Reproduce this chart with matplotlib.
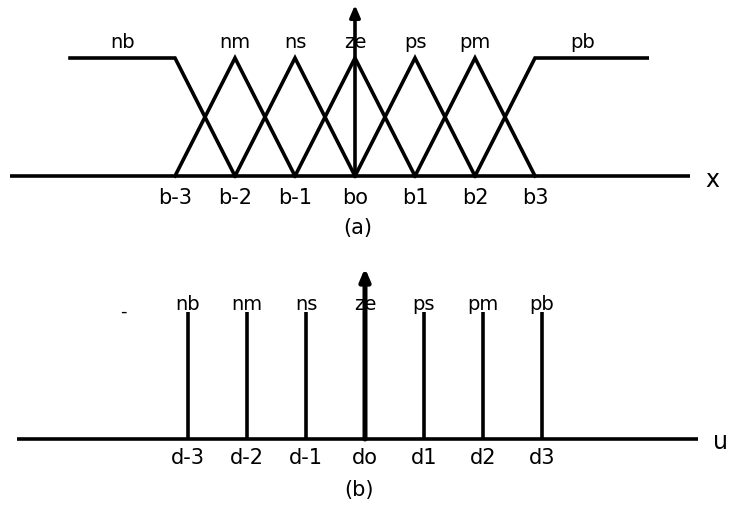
import matplotlib
matplotlib.use('Agg')
import matplotlib.pyplot as plt

# fuzzy partition of the input x (a) and singleton outputs for u (b)
set_names = ['nb', 'nm', 'ns', 'ze', 'ps', 'pm', 'pb']
b_centers = [-3, -2, -1, 0, 1, 2, 3]
b_labels = ['b-3', 'b-2', 'b-1', 'bo', 'b1', 'b2', 'b3']
d_centers = [-3, -2, -1, 0, 1, 2, 3]
d_labels = ['d-3', 'd-2', 'd-1', 'do', 'd1', 'd2', 'd3']
singleton_height = [1, 1, 1, 1, 1, 1, 1]

x_min, x_max = -5.75, 5.58      # universe drawn for x
shoulder_left, shoulder_right = -4.75, 4.87
u_min, u_max = -5.9, 5.65

lw = 2.6
fs = 15
plt.rcParams['font.family'] = ['DejaVu Sans']

fig = plt.figure(figsize=(7.34, 5.07), dpi=100)

# ---- (a) membership functions ----
ax1 = fig.add_axes([0, 0.5266, 1, 0.4734])
ax1.set_xlim(-355 / 60, (734 - 355) / 60)
ax1.set_ylim(-64 / 118, 176 / 118)
ax1.axis('off')

ax1.plot([x_min, x_max], [0, 0], color='black', lw=lw, solid_capstyle='butt')
for i, c in enumerate(b_centers):
    if i == 0:
        xs = [shoulder_left, c, b_centers[1]]
        ys = [1, 1, 0]
    elif i == len(b_centers) - 1:
        xs = [b_centers[-2], c, shoulder_right]
        ys = [0, 1, 1]
    else:
        xs = [b_centers[i - 1], c, b_centers[i + 1]]
        ys = [0, 1, 0]
    ax1.plot(xs, ys, color='black', lw=lw, solid_joinstyle='miter')

ax1.annotate('', xy=(0, 1.45), xytext=(0, 0),
             arrowprops=dict(arrowstyle='-|>,head_length=0.7,head_width=0.3',
                             color='black', lw=lw, shrinkA=0, shrinkB=0))

name_x = [-3.88] + b_centers[1:-1] + [3.8]
for nx, name in zip(name_x, set_names):
    ax1.text(nx, 1.13, name, ha='center', va='center', fontsize=fs - 1)
for c, lab in zip(b_centers, b_labels):
    ax1.text(c, -0.19, lab, ha='center', va='center', fontsize=fs)
ax1.text(5.95, -0.03, 'x', ha='center', va='center', fontsize=fs + 2)
ax1.text(0.05, -0.44, '(a)', ha='center', va='center', fontsize=fs)

# ---- (b) output singletons ----
ax2 = fig.add_axes([0, 0, 1, 0.5266])
ax2.set_xlim(-365 / 59, (734 - 365) / 59)
ax2.set_ylim(-68 / 127, 199 / 127)
ax2.axis('off')

ax2.plot([u_min, u_max], [0, 0], color='black', lw=lw, solid_capstyle='butt')
ax2.vlines(d_centers, 0, singleton_height, color='black', lw=lw)
ax2.annotate('', xy=(0, 1.346), xytext=(0, 0),
             arrowprops=dict(arrowstyle='-|>,head_length=0.7,head_width=0.3',
                             color='black', lw=lw + 1, shrinkA=0, shrinkB=0))

for c, h, name in zip(d_centers, singleton_height, set_names):
    ax2.text(c, h + 0.06, name, ha='center', va='center', fontsize=fs - 1)
for c, lab in zip(d_centers, d_labels):
    ax2.text(c, -0.15, lab, ha='center', va='center', fontsize=fs)
ax2.text(-4.1, 1.0, '-', ha='center', va='center', fontsize=fs - 2)
ax2.text(6.02, -0.02, 'u', ha='center', va='center', fontsize=fs + 2)
ax2.text(-0.1, -0.40, '(b)', ha='center', va='center', fontsize=fs)

fig.savefig('out.png', dpi=100, facecolor='white')
